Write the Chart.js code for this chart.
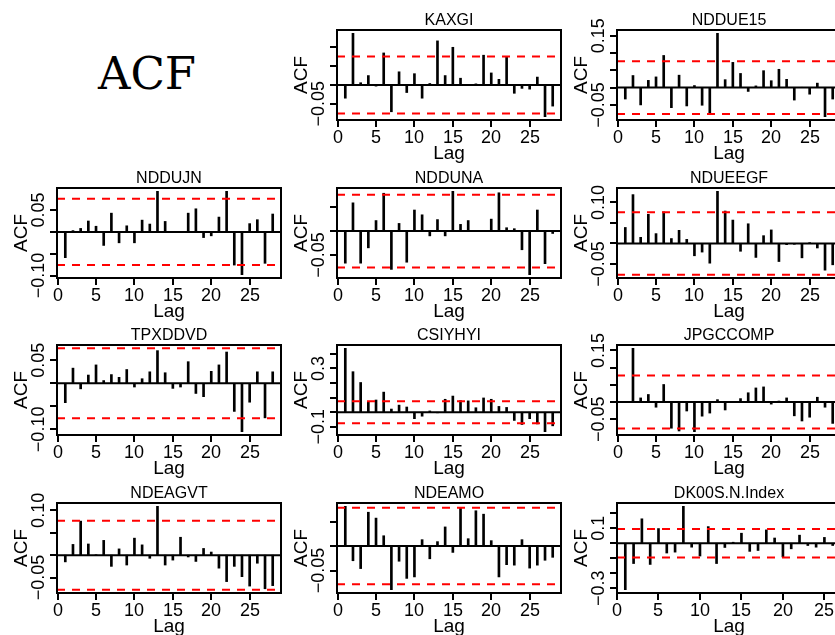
<!DOCTYPE html>
<html lang="en">
<head>
<meta charset="UTF-8">
<title>ACF</title>
<style>
  html, body { margin: 0; padding: 0; background: #fff; }
  body { width: 835px; height: 635px; position: relative; overflow: hidden; }
  canvas.panel { position: absolute; }
  #bigTitle {
    position: absolute; left: 47px; top: 51px; width: 200px;
    text-align: center; font-family: "DejaVu Serif", serif;
    font-size: 45px; line-height: 45px; color: #000;
  }
</style>
<script src="https://cdn.jsdelivr.net/npm/chart.js"></script>
</head>
<body>
<div id="bigTitle">ACF</div>
<script>
// lags (lag 0 is not plotted)
const lags28 = [1,2,3,4,5,6,7,8,9,10,11,12,13,14,15,16,17,18,19,20,21,22,23,24,25,26,27,28];
const lags26 = [1,2,3,4,5,6,7,8,9,10,11,12,13,14,15,16,17,18,19,20,21,22,23,24,25,26];
const xTicks = [0, 5, 10, 15, 20, 25];

const names = ['KAXGI', 'NDDUE15', 'NDDUJN', 'NDDUNA', 'NDUEEGF', 'TPXDDVD',
               'CSIYHYI', 'JPGCCOMP', 'NDEAGVT', 'NDEAMO', 'DK00S.N.Index'];

// autocorrelations
const kaxgi    = [-0.035, 0.137, 0.006, 0.025, -0.003, 0.085, -0.071, 0.035, -0.020, 0.030, -0.035, 0.004, 0.117, 0.025, 0.100, 0.018, -0.001, 0.003, 0.079, 0.032, 0.015, 0.076, -0.022, -0.009, -0.011, 0.021, -0.084, -0.056];
const nddue15  = [-0.033, 0.035, -0.050, 0.021, 0.031, 0.093, -0.058, 0.036, -0.053, 0.006, -0.051, -0.075, 0.157, 0.023, 0.073, 0.041, -0.011, 0.005, 0.049, 0.020, 0.053, 0.024, -0.036, 0.001, -0.019, 0.013, -0.084, -0.033];
const nddujn   = [-0.059, 0.003, 0.008, 0.025, 0.013, -0.031, 0.043, -0.025, 0.014, -0.025, 0.027, 0.018, 0.093, 0.024, 0.001, 0.000, 0.043, 0.053, -0.013, -0.009, 0.034, 0.093, -0.076, -0.098, 0.019, 0.028, -0.072, 0.041];
const nddunaV  = [-0.067, 0.059, -0.067, -0.035, 0.022, 0.079, -0.080, 0.016, -0.065, 0.044, 0.034, -0.010, 0.024, -0.010, 0.083, 0.014, 0.022, 0.001, 0.001, 0.025, 0.080, 0.007, 0.005, -0.039, -0.091, 0.044, -0.068, -0.005];
const ndueegf  = [0.039, 0.119, 0.015, 0.071, 0.024, 0.077, 0.012, 0.032, 0.010, -0.030, -0.021, -0.048, 0.127, 0.079, 0.057, -0.019, 0.048, -0.034, 0.019, 0.033, -0.044, -0.003, -0.002, -0.035, 0.002, -0.011, -0.065, -0.052];
const tpxddvd  = [-0.042, 0.033, -0.012, 0.018, 0.040, 0.006, 0.019, 0.013, 0.030, -0.008, 0.010, 0.025, 0.071, 0.023, -0.011, -0.008, 0.047, -0.022, -0.029, 0.026, 0.040, 0.068, -0.061, -0.105, -0.041, 0.025, -0.075, 0.025];
const csiyhyi  = [0.438, 0.278, 0.204, 0.071, 0.084, 0.138, 0.022, 0.049, 0.036, -0.044, -0.027, 0.009, -0.004, 0.089, 0.111, 0.080, 0.078, 0.031, 0.098, 0.089, 0.040, 0.033, -0.056, -0.084, -0.044, -0.080, -0.133, -0.093];
const jpgccomp = [0.001, 0.156, 0.012, 0.022, -0.015, 0.051, -0.076, -0.084, -0.026, -0.086, -0.041, -0.032, 0.007, -0.023, 0.002, 0.010, 0.027, 0.041, 0.044, -0.006, 0.003, 0.012, -0.040, -0.055, -0.044, 0.014, -0.015, -0.062];
const ndeagvt  = [-0.015, 0.024, 0.076, 0.025, 0.001, 0.033, -0.025, 0.014, -0.022, 0.038, 0.023, -0.007, 0.109, -0.022, -0.011, 0.040, -0.004, -0.014, 0.015, 0.007, -0.029, -0.059, -0.025, -0.048, -0.069, -0.018, -0.075, -0.068];
const ndeamo   = [0.081, -0.030, -0.046, 0.069, 0.057, 0.021, -0.089, -0.031, -0.066, -0.063, 0.013, -0.026, 0.009, 0.039, -0.013, 0.077, 0.015, 0.072, 0.065, 0.011, -0.063, -0.038, -0.039, 0.013, -0.045, -0.039, -0.029, -0.023];
const dk00s    = [-0.309, -0.135, 0.163, -0.141, 0.098, -0.065, -0.059, 0.246, -0.026, -0.085, 0.111, -0.135, -0.028, 0.007, 0.067, -0.054, -0.048, 0.089, 0.035, -0.091, -0.037, 0.054, -0.015, -0.026, 0.039, -0.015];

// confidence bounds (+/-)
const ciBounds = [0.0755, 0.076, 0.076, 0.076, 0.076, 0.076, 0.076, 0.077, 0.077, 0.078, 0.095];

// y ticks and which of them carry a label
const yTickSets = [
  [-0.05, 0, 0.05, 0.10],
  [-0.05, 0, 0.05, 0.10, 0.15],
  [-0.10, -0.05, 0, 0.05],
  [-0.05, 0, 0.05],
  [-0.05, 0, 0.05, 0.10],
  [-0.10, -0.05, 0, 0.05],
  [-0.1, 0, 0.1, 0.2, 0.3, 0.4],
  [-0.05, 0, 0.05, 0.10, 0.15],
  [-0.05, 0, 0.05, 0.10],
  [-0.05, 0, 0.05],
  [-0.3, -0.2, -0.1, 0, 0.1, 0.2]
];
const yLabelSets = [
  ['-0.05'], ['-0.05', '0.15'], ['-0.10', '0.05'], ['-0.05'], ['-0.05', '0.10'],
  ['-0.10', '0.05'], ['-0.1', '0.3'], ['-0.05', '0.15'], ['-0.05', '0.10'], ['-0.05'], ['-0.3', '0.1']
];

const seriesList = [kaxgi, nddue15, nddujn, nddunaV, ndueegf, tpxddvd, csiyhyi, jpgccomp, ndeagvt, ndeamo, dk00s];
const lagList = [lags28, lags28, lags28, lags28, lags28, lags28, lags28, lags28, lags28, lags28, lags26];
// [column, row] in the 3 x 4 grid
const slots = [[1,0],[2,0],[0,1],[1,1],[2,1],[0,2],[1,2],[2,2],[0,3],[1,3],[2,3]];

const W = 290, H = 168;
const boxLeft = 57, boxTop = 30, boxW = 224, boxH = 90;
const FONT = '"Liberation Sans", Arial, sans-serif';

const rAxes = {
  id: 'rAxes',
  afterDatasetsDraw(chart, args, opts) {
    const { ctx, chartArea: a, scales: { x, y } } = chart;
    ctx.save();
    ctx.strokeStyle = '#000';
    ctx.fillStyle = '#000';
    ctx.lineWidth = 2;
    ctx.strokeRect(a.left, a.top, a.right - a.left, a.bottom - a.top);

    // x axis
    ctx.font = '18px ' + FONT;
    ctx.textAlign = 'center';
    ctx.textBaseline = 'alphabetic';
    xTicks.forEach(v => {
      const px = Math.round(x.getPixelForValue(v));
      ctx.beginPath(); ctx.moveTo(px, a.bottom); ctx.lineTo(px, a.bottom + 7); ctx.stroke();
      ctx.fillText(String(v), px, a.bottom + 23);
    });

    // y axis
    opts.ticks.forEach(v => {
      const py = Math.round(y.getPixelForValue(v));
      ctx.beginPath(); ctx.moveTo(a.left, py); ctx.lineTo(a.left - 7, py); ctx.stroke();
    });
    opts.labels.forEach(s => {
      const py = y.getPixelForValue(parseFloat(s));
      ctx.save();
      ctx.translate(a.left - 13, py);
      ctx.rotate(-Math.PI / 2);
      ctx.fillText(s.replace('-', '\u2212'), 0, 0);
      ctx.restore();
    });

    // axis titles
    ctx.font = '19px ' + FONT;
    ctx.fillText('Lag', (a.left + a.right) / 2, a.bottom + 39);
    ctx.save();
    ctx.translate(a.left - 30, (a.top + a.bottom) / 2);
    ctx.rotate(-Math.PI / 2);
    ctx.fillText('ACF', 0, 0);
    ctx.restore();

    // panel title
    ctx.font = '16px ' + FONT;
    ctx.fillText(opts.title, (a.left + a.right) / 2, a.top - 5);
    ctx.restore();
  }
};

names.forEach((name, i) => {
  const vals = seriesList[i];
  const lags = lagList[i];
  const ci = ciBounds[i];
  const [col, row] = slots[i];

  const lo = lags[0], hi = lags[lags.length - 1];
  const xMin = lo - 0.04 * (hi - lo), xMax = hi + 0.04 * (hi - lo);
  const yLo = Math.min(Math.min(...vals), -ci), yHi = Math.max(Math.max(...vals), ci);
  const yMin = yLo - 0.04 * (yHi - yLo), yMax = yHi + 0.04 * (yHi - yLo);

  const cv = document.createElement('canvas');
  cv.className = 'panel';
  cv.width = W; cv.height = H;
  cv.style.left = (col * 280) + 'px';
  cv.style.top = Math.round(row * 157.5) + 'px';
  document.body.appendChild(cv);

  new Chart(cv, {
    type: 'bar',
    data: {
      datasets: [
        { type: 'bar', data: lags.map((l, k) => ({ x: l, y: vals[k] })), backgroundColor: '#000',
          borderWidth: 0, barThickness: 2, order: 1 },
        { type: 'line', data: [{ x: xMin, y: 0 }, { x: xMax, y: 0 }], borderColor: '#000',
          borderWidth: 2, pointRadius: 0, order: 2 },
        { type: 'line', data: [{ x: xMin, y: ci }, { x: xMax, y: ci }], borderColor: '#ff0000',
          borderWidth: 2, borderDash: [8, 7], pointRadius: 0, order: 0 },
        { type: 'line', data: [{ x: xMin, y: -ci }, { x: xMax, y: -ci }], borderColor: '#ff0000',
          borderWidth: 2, borderDash: [8, 7], pointRadius: 0, order: 0 }
      ]
    },
    options: {
      responsive: false,
      animation: false,
      devicePixelRatio: 1,
      layout: { padding: { left: boxLeft, top: boxTop, right: W - boxLeft - boxW, bottom: H - boxTop - boxH } },
      plugins: {
        legend: { display: false },
        tooltip: { enabled: false },
        rAxes: { title: name, ticks: yTickSets[i], labels: yLabelSets[i] }
      },
      scales: {
        x: { type: 'linear', min: xMin, max: xMax, offset: false, display: false },
        y: { type: 'linear', min: yMin, max: yMax, display: false }
      }
    },
    plugins: [rAxes]
  });
});
</script>
</body>
</html>
